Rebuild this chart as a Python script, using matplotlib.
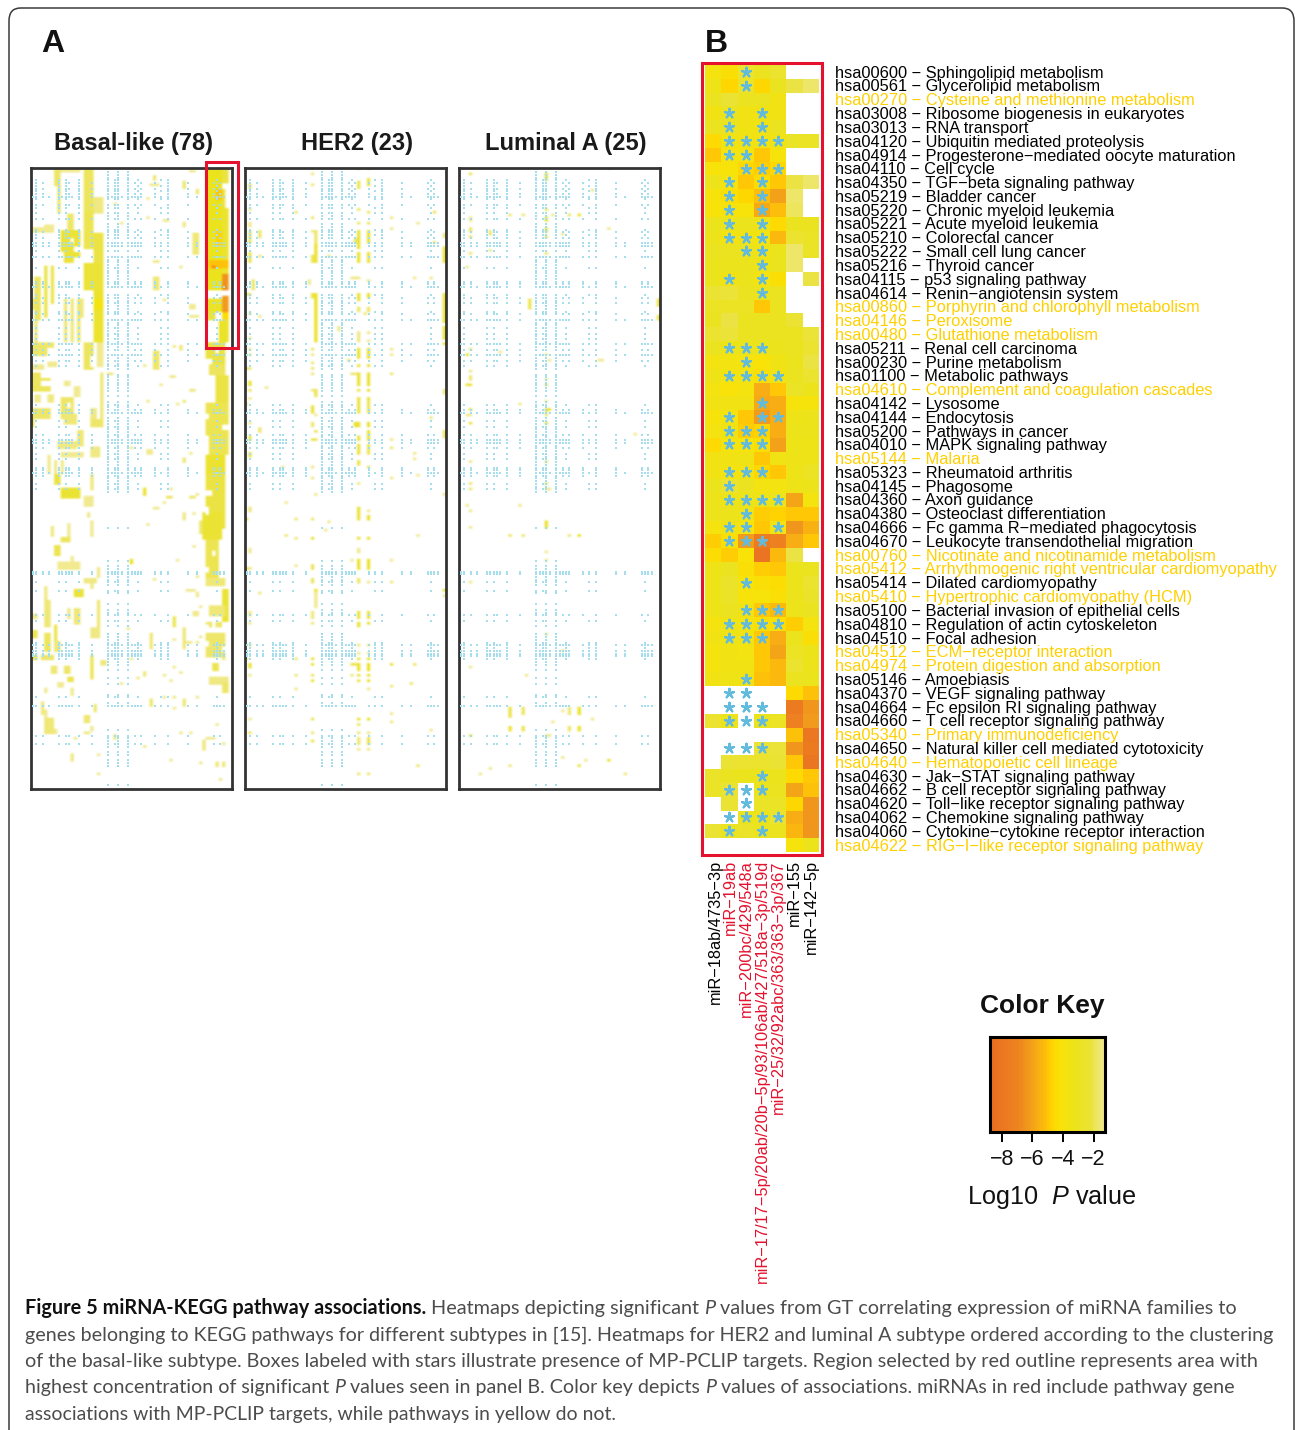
import numpy as np
import matplotlib
import matplotlib.pyplot as plt
from matplotlib.colors import LinearSegmentedColormap, Normalize
from matplotlib.patches import Rectangle, FancyBboxPatch

matplotlib.use("Agg")

W, H = 1295, 1430
N = np.nan
plt.rcParams['font.family'] = ['Liberation Sans', 'DejaVu Sans']
plt.rcParams['mathtext.fontset'] = 'custom'
plt.rcParams['mathtext.rm'] = 'Liberation Sans'
plt.rcParams['mathtext.it'] = 'Liberation Sans:italic'

# ---- panel B ----
pathways = [
    "hsa00600 − Sphingolipid metabolism", "hsa00561 − Glycerolipid metabolism",
    "hsa00270 − Cysteine and methionine metabolism", "hsa03008 − Ribosome biogenesis in eukaryotes",
    "hsa03013 − RNA transport", "hsa04120 − Ubiquitin mediated proteolysis",
    "hsa04914 − Progesterone−mediated oocyte maturation", "hsa04110 − Cell cycle",
    "hsa04350 − TGF−beta signaling pathway", "hsa05219 − Bladder cancer",
    "hsa05220 − Chronic myeloid leukemia", "hsa05221 − Acute myeloid leukemia",
    "hsa05210 − Colorectal cancer", "hsa05222 − Small cell lung cancer",
    "hsa05216 − Thyroid cancer", "hsa04115 − p53 signaling pathway",
    "hsa04614 − Renin−angiotensin system", "hsa00860 − Porphyrin and chlorophyll metabolism",
    "hsa04146 − Peroxisome", "hsa00480 − Glutathione metabolism",
    "hsa05211 − Renal cell carcinoma", "hsa00230 − Purine metabolism",
    "hsa01100 − Metabolic pathways", "hsa04610 − Complement and coagulation cascades",
    "hsa04142 − Lysosome", "hsa04144 − Endocytosis",
    "hsa05200 − Pathways in cancer", "hsa04010 − MAPK signaling pathway",
    "hsa05144 − Malaria", "hsa05323 − Rheumatoid arthritis",
    "hsa04145 − Phagosome", "hsa04360 − Axon guidance",
    "hsa04380 − Osteoclast differentiation", "hsa04666 − Fc gamma R−mediated phagocytosis",
    "hsa04670 − Leukocyte transendothelial migration", "hsa00760 − Nicotinate and nicotinamide metabolism",
    "hsa05412 − Arrhythmogenic right ventricular cardiomyopathy", "hsa05414 − Dilated cardiomyopathy",
    "hsa05410 − Hypertrophic cardiomyopathy (HCM)", "hsa05100 − Bacterial invasion of epithelial cells",
    "hsa04810 − Regulation of actin cytoskeleton", "hsa04510 − Focal adhesion",
    "hsa04512 − ECM−receptor interaction", "hsa04974 − Protein digestion and absorption",
    "hsa05146 − Amoebiasis", "hsa04370 − VEGF signaling pathway",
    "hsa04664 − Fc epsilon RI signaling pathway", "hsa04660 − T cell receptor signaling pathway",
    "hsa05340 − Primary immunodeficiency", "hsa04650 − Natural killer cell mediated cytotoxicity",
    "hsa04640 − Hematopoietic cell lineage", "hsa04630 − Jak−STAT signaling pathway",
    "hsa04662 − B cell receptor signaling pathway", "hsa04620 − Toll−like receptor signaling pathway",
    "hsa04062 − Chemokine signaling pathway", "hsa04060 − Cytokine−cytokine receptor interaction",
    "hsa04622 − RIG−I−like receptor signaling pathway",
]
yellow_rows = [2, 17, 18, 19, 23, 28, 35, 36, 38, 42, 43, 48, 50, 56]
mirnas = ["miR−18ab/4735−3p", "miR−19ab", "miR−200bc/429/548a",
          "miR−17/17−5p/20ab/20b−5p/93/106ab/427/518a−3p/519d",
          "miR−25/32/92abc/363/363−3p/367", "miR−155", "miR−142−5p"]
mirna_colors = ["black", "#e4122e", "#e4122e", "#e4122e", "#e4122e", "black", "black"]

log_p = [
    [-3.8, -4.3, -2.5, -3.0, -2.5, N, N],
    [-3.3, -4.6, -2.6, -4.6, -3.0, -2.0, -1.7],
    [-3.0, -2.2, -3.0, -3.0, -3.6, N, N],
    [-3.6, -3.0, -3.6, -3.6, -3.6, N, N],
    [-3.0, -3.0, -3.6, -3.5, -3.0, N, N],
    [-4.5, -3.5, -3.5, -3.5, -3.5, -2.7, -2.7],
    [-5.0, -3.8, -3.8, -4.9, -3.9, N, N],
    [-4.0, -4.0, -4.6, -4.8, -4.6, N, N],
    [-3.2, -3.8, -5.0, -4.4, -5.0, -2.0, -1.7],
    [-3.9, -4.2, -4.6, -5.2, -6.0, -1.7, N],
    [-4.0, -4.0, -4.0, -5.8, -5.2, -1.8, N],
    [-3.1, -3.1, -3.1, -3.3, -4.5, -3.0, -3.0],
    [-3.2, -3.8, -3.5, -3.7, -5.3, -2.4, -2.7],
    [-3.0, -3.0, -3.0, -3.5, -3.1, -1.7, -2.7],
    [-3.1, -3.1, -3.1, -3.3, -3.1, -1.7, N],
    [-3.1, -3.6, -3.1, -3.8, -4.2, N, -2.0],
    [-2.3, -2.1, -3.0, -3.1, -3.0, N, N],
    [-2.8, -2.9, -2.9, -5.0, -3.0, N, N],
    [-3.0, -2.0, -3.0, -3.0, -3.0, -2.2, N],
    [-2.4, -2.1, -3.0, -3.0, -3.0, -3.0, -2.1],
    [-3.0, -3.3, -3.1, -3.1, -3.1, -3.0, -2.4],
    [-3.7, -3.7, -3.8, -4.1, -3.4, -3.1, -2.0],
    [-3.3, -3.8, -3.7, -4.2, -3.7, -3.0, -2.5],
    [-3.7, -4.1, -3.8, -5.7, -4.9, -2.7, -3.2],
    [-3.5, -3.6, -3.6, -5.8, -5.7, -3.9, -3.9],
    [-3.9, -3.8, -4.9, -6.2, -5.6, -3.3, -3.2],
    [-3.7, -3.6, -4.8, -4.7, -5.7, -3.2, -3.2],
    [-4.5, -3.8, -3.9, -4.2, -6.0, -3.3, -3.3],
    [-3.6, -3.6, -3.4, -5.0, -3.5, -3.3, -3.3],
    [-3.5, -3.7, -3.7, -4.6, -5.0, -3.3, -2.9],
    [-3.1, -2.4, -3.0, -3.7, -3.7, -3.3, -3.2],
    [-3.2, -3.3, -3.2, -3.3, -3.2, -5.9, -3.8],
    [-3.2, -3.2, -3.3, -4.8, -4.7, -5.0, -5.0],
    [-3.8, -3.6, -3.9, -5.0, -3.8, -6.4, -5.5],
    [-4.8, -4.3, -6.2, -7.6, -7.2, -5.6, -5.0],
    [-4.4, -4.8, -4.1, -8.2, -5.3, -2.0, N],
    [-3.3, -3.0, -4.3, -4.8, -5.0, -3.1, -3.0],
    [-3.3, -2.6, -4.0, -4.2, -4.4, -3.2, -2.5],
    [-3.3, -2.7, -4.0, -4.0, -4.2, -3.2, -2.6],
    [-3.3, -3.0, -3.5, -5.0, -5.3, -3.2, -3.0],
    [-3.8, -3.4, -3.7, -4.3, -4.2, -4.8, -3.8],
    [-3.5, -3.4, -3.5, -4.9, -5.7, -3.1, -4.3],
    [-3.8, -3.5, -3.7, -5.0, -5.9, -2.8, -3.2],
    [-3.8, -3.5, -3.6, -5.0, -5.3, -2.5, -3.2],
    [-3.5, -3.4, -3.5, -5.1, -5.3, -3.0, -3.1],
    [N, N, N, N, N, -4.5, -5.1],
    [N, N, N, N, N, -7.8, -6.3],
    [-2.4, -3.2, N, -3.1, -2.8, -7.3, -6.2],
    [N, N, N, N, N, -5.1, -8.0],
    [N, N, N, -2.2, -2.1, -6.4, -7.6],
    [N, -2.2, -2.4, -2.5, -2.3, -4.9, -8.1],
    [-2.6, -3.0, -3.1, -3.1, -3.1, -4.5, -5.0],
    [-2.7, -2.2, N, -3.1, -3.0, -5.9, -5.1],
    [N, -2.2, N, -2.7, -2.7, -4.6, -6.4],
    [N, N, -3.2, -3.2, -2.4, -5.6, -6.4],
    [-2.2, -3.0, -2.6, -3.1, -3.0, -5.4, -6.3],
    [N, N, N, N, N, -3.9, -3.2],
]
# columns holding a star, per row of panel B
stars = {0: [2], 1: [2], 3: [1, 3], 4: [1, 3], 5: [1, 2, 3, 4], 6: [1, 2], 7: [2, 3, 4], 8: [1, 3], 9: [1, 3],
         10: [1, 3], 11: [1, 3], 12: [1, 2, 3], 13: [2, 3], 14: [3], 15: [1, 3], 16: [3], 20: [1, 2, 3], 21: [2],
         22: [1, 2, 3, 4], 24: [3], 25: [1, 3, 4], 26: [1, 2, 3], 27: [1, 2, 3], 29: [1, 2, 3], 30: [1],
         31: [1, 2, 3, 4], 32: [2], 33: [1, 2, 4], 34: [1, 2, 3], 37: [2], 39: [2, 3, 4], 40: [1, 2, 3, 4],
         41: [1, 2, 3], 44: [2], 45: [1, 2], 46: [1, 2, 3], 47: [1, 2, 3], 49: [1, 2, 3], 51: [3], 52: [1, 2, 3],
         53: [2], 54: [1, 2, 3, 4], 55: [1, 3]}

# ---- panel A: estimated cells, (first row, end row, first col, end col, log10 P) ----
basal_blocks = [
    (0, 16, 16, 19, -2.8), (0, 2, 9, 15, -2.4), (0, 7, 7, 9, -2.7), (7, 17, 8, 9, -2.7), (11, 17, 19, 22, -2.5),
    (16, 30, 16, 19, -2.9), (17, 25, 11, 13, -2.7), (21, 23, 4, 7, -2.3), (22, 24, 0, 7, -2.4), (23, 35, 9, 15, -3.1),
    (24, 36, 19, 22, -3.0), (35, 45, 16, 22, -3.1), (45, 64, 19, 22, -3.4), (48, 52, 19, 22, -4.4), (64, 73, 20, 22, -2.4),
    (64, 74, 16, 19, -2.8), (36, 55, 4, 5, -3.0), (36, 50, 6, 7, -2.9), (40, 56, 1, 3, -2.8), (48, 52, 0, 1, -2.6),
    (48, 64, 10, 11, -2.6), (48, 64, 12, 13, -2.6), (48, 64, 14, 15, -2.7), (48, 55, 15, 16, -2.5), (56, 66, 1, 2, -2.6),
    (64, 69, 0, 7, -2.7), (72, 74, 0, 4, -2.3), (71, 73, 5, 8, -2.3), (75, 82, 0, 6, -2.8), (83, 86, 1, 3, -2.4),
    (83, 86, 5, 7, -2.5), (78, 80, 10, 12, -2.3), (80, 84, 13, 15, -2.3), (84, 92, 9, 13, -2.7), (88, 92, 0, 6, -2.7),
    (90, 94, 10, 14, -2.6), (92, 95, 0, 1, -2.9), (75, 92, 21, 22, -2.6), (92, 95, 18, 22, -2.7), (88, 92, 18, 20, -2.5),
    (100, 103, 8, 14, -2.5), (104, 106, 9, 16, -2.4), (96, 102, 14, 16, -2.6), (102, 106, 18, 21, -2.5), (105, 112, 5, 6, -2.4),
    (107, 112, 9, 10, -2.3), (107, 112, 7, 8, -2.4), (40, 45, 37, 39, -2.6), (67, 74, 37, 39, -2.7), (50, 52, 48, 50, -2.4),
    (54, 55, 48, 51, -2.3), (24, 32, 49, 51, -2.6), (5, 8, 46, 47, -2.7), (3, 5, 37, 38, -2.6), (6, 7, 36, 39, -2.4),
    (8, 10, 50, 51, -2.6), (1, 2, 48, 50, -2.3), (34, 35, 37, 39, -2.3), (65, 66, 43, 44, -2.5), (65, 67, 45, 46, -2.6),
    (72, 73, 34, 35, -2.4), (79, 80, 39, 40, -2.3), (76, 77, 42, 44, -2.4), (81, 82, 48, 50, -2.5), (85, 86, 46, 47, -2.7),
    (86, 87, 44, 45, -2.3), (85, 86, 35, 36, -2.4), (19, 20, 40, 42, -2.3), (20, 22, 46, 47, -2.5), (18, 19, 35, 36, -2.3),
    (11, 12, 35, 36, -2.3), (20, 21, 27, 28, -2.4), (13, 14, 25, 26, -2.4), (0, 1, 31, 32, -2.3), (75, 76, 23, 25, -2.5),
    (103, 105, 35, 37, -2.4), (102, 103, 30, 31, -2.3), (106, 108, 46, 47, -2.6), (104, 105, 48, 49, -2.4), (48, 49, 40, 41, -2.3),
    (36, 37, 45, 46, -2.4),
    # right hand column of the basal-like map
    (0, 45, 53, 58, -3.9), (0, 6, 58, 60, -3.0), (8, 15, 58, 59, -3.0), (15, 40, 58, 60, -3.4), (8, 12, 56, 58, -5.5),
    (23, 29, 56, 58, -5.3), (34, 37, 54, 60, -5.6), (36, 37, 55, 56, -7.4), (39, 45, 58, 60, -6.8), (48, 53, 53, 58, -3.5),
    (47, 53, 58, 60, -6.6), (53, 56, 53, 56, -3.0), (56, 64, 57, 60, -3.5), (53, 56, 58, 60, -5.0), (64, 72, 53, 59, -3.0),
    (72, 76, 54, 59, -2.8), (76, 86, 56, 60, -3.0), (86, 98, 53, 60, -2.9), (98, 105, 54, 60, -2.9), (105, 112, 53, 59, -3.3),
    (112, 132, 53, 59, -3.0), (126, 136, 52, 58, -3.2), (136, 150, 53, 57, -2.9), (150, 153, 53, 59, -2.6), (154, 166, 58, 60, -3.2),
    (160, 164, 54, 59, -2.6), (166, 167, 53, 54, -2.6), (166, 167, 56, 57, -2.6), (170, 179, 53, 59, -2.7), (179, 180, 58, 59, -2.6),
    (181, 184, 55, 57, -2.9), (186, 189, 54, 60, -2.5), (188, 192, 58, 60, -2.7),
    # lower half
    (112, 116, 7, 9, -3.0), (117, 121, 9, 15, -3.2), (112, 118, 18, 19, -2.6), (120, 124, 16, 19, -2.3), (126, 128, 17, 18, -2.4),
    (131, 135, 6, 7, -2.5), (130, 135, 11, 12, -2.4), (129, 135, 18, 19, -2.4), (135, 137, 9, 12, -2.8), (138, 142, 7, 9, -2.9),
    (142, 145, 12, 13, -2.3), (144, 147, 8, 15, -2.2), (146, 150, 20, 21, -2.3), (150, 152, 16, 20, -2.5), (152, 154, 18, 19, -2.5),
    (153, 158, 4, 5, -2.5), (154, 157, 13, 16, -3.1), (158, 168, 4, 6, -2.6), (158, 168, 20, 21, -2.6), (161, 167, 13, 15, -2.6),
    (161, 165, 11, 12, -2.5), (163, 165, 0, 2, -2.4), (167, 175, 7, 8, -2.9), (169, 172, 0, 2, -2.9), (168, 172, 18, 21, -2.5),
    (170, 177, 4, 6, -2.8), (173, 177, 7, 9, -2.6), (178, 180, 0, 2, -2.9), (178, 180, 3, 7, -2.7), (178, 187, 18, 19, -2.9),
    (180, 182, 21, 23, -2.6), (182, 185, 6, 8, -2.6), (182, 185, 10, 12, -2.7), (186, 188, 11, 13, -2.9), (188, 190, 8, 10, -2.4),
    (190, 192, 4, 5, -2.4), (190, 193, 12, 13, -2.4), (195, 200, 3, 4, -2.5), (198, 201, 4, 5, -2.3), (201, 207, 4, 7, -2.6),
    (205, 207, 7, 8, -2.4), (196, 199, 19, 20, -2.6), (200, 203, 16, 18, -2.6), (206, 207, 16, 18, -2.5), (204, 206, 18, 19, -2.4),
    (208, 209, 13, 14, -2.3), (117, 120, 34, 35, -3.2), (117, 118, 42, 43, -2.3), (120, 121, 41, 43, -2.8), (122, 123, 40, 41, -2.4),
    (124, 125, 37, 39, -2.4), (120, 121, 48, 50, -2.7), (119, 120, 50, 51, -2.4), (126, 129, 46, 47, -2.5), (130, 131, 35, 36, -2.3),
    (138, 139, 49, 50, -2.4), (126, 127, 49, 50, -2.3), (129, 134, 51, 52, -2.6), (143, 145, 30, 31, -3.5), (143, 144, 44, 45, -2.4),
    (150, 151, 37, 38, -2.4), (149, 150, 50, 51, -2.3), (154, 155, 47, 50, -2.4), (155, 157, 50, 51, -2.4), (160, 161, 51, 52, -2.3),
    (162, 164, 49, 51, -2.4), (164, 168, 43, 44, -2.9), (168, 176, 46, 47, -2.6), (170, 176, 36, 37, -2.6), (172, 173, 43, 44, -2.4),
    (173, 174, 47, 49, -2.4), (173, 174, 50, 51, -2.4), (171, 172, 51, 52, -2.4), (166, 168, 54, 55, -2.7), (166, 168, 56, 58, -2.7),
    (168, 169, 29, 30, -2.3), (179, 180, 30, 31, -2.4), (181, 182, 21, 23, -2.5), (182, 183, 43, 44, -2.3), (184, 185, 45, 46, -2.3),
    (185, 186, 40, 41, -2.4), (184, 186, 34, 35, -2.5), (186, 187, 32, 33, -2.5), (187, 188, 42, 43, -2.3), (188, 189, 27, 28, -2.4),
    (193, 194, 40, 41, -2.4), (193, 194, 43, 44, -2.5), (193, 194, 50, 51, -2.4), (194, 197, 36, 37, -2.7), (194, 197, 46, 47, -2.6),
    (197, 198, 43, 44, -2.3), (203, 204, 56, 57, -2.3), (206, 207, 45, 46, -2.3), (206, 207, 48, 49, -2.3), (207, 209, 25, 26, -2.5),
    (211, 212, 34, 35, -2.4), (209, 213, 52, 53, -2.6), (208, 209, 53, 56, -2.4), (210, 211, 58, 59, -2.5), (216, 217, 42, 43, -2.4),
    (217, 218, 51, 52, -2.4), (217, 219, 56, 57, -2.6), (217, 219, 58, 59, -2.6), (214, 215, 20, 21, -2.3), (214, 217, 12, 13, -2.5),
    (221, 222, 20, 21, -2.3), (223, 224, 57, 58, -2.3),
    # white gaps inside the filled patches
    (26, 28, 12, 13, N), (29, 31, 13, 15, N), (31, 35, 9, 10, N), (33, 35, 13, 15, N), (66, 69, 5, 7, N), (78, 80, 3, 6, N),
    (75, 77, 3, 6, N), (86, 88, 11, 12, N), (69, 73, 18, 19, N), (66, 68, 56, 57, N), (70, 72, 53, 55, N), (90, 92, 53, 54, N),
    (94, 96, 58, 60, N), (118, 120, 53, 55, N), (124, 127, 53, 54, N), (140, 142, 55, 56, N), (146, 148, 53, 54, N),
    (173, 175, 53, 54, N), (175, 177, 58, 59, N),
]
her2_blocks = [
    (6, 8, 1, 2, -2.6), (15, 16, 1, 2, -2.3), (20, 22, 1, 2, -2.4), (23, 28, 1, 2, -2.7), (31, 35, 1, 2, -2.9), (41, 45, 2, 3, -2.7),
    (46, 47, 0, 2, -2.7), (53, 54, 1, 2, -2.5), (62, 63, 1, 2, -2.2), (66, 67, 1, 2, -2.4), (68, 69, 1, 2, -2.3), (73, 74, 0, 2, -2.6),
    (78, 80, 1, 2, -3.3), (81, 82, 1, 2, -2.8), (84, 85, 1, 2, -2.2), (86, 87, 0, 1, -2.4), (93, 94, 1, 2, -2.4), (98, 100, 1, 2, -2.9),
    (104, 106, 1, 2, -3.0), (23, 26, 4, 5, -2.7), (32, 33, 4, 5, -2.5), (54, 55, 4, 5, -2.4), (80, 81, 6, 7, -2.4), (95, 97, 4, 5, -2.7),
    (0, 1, 20, 21, -2.4), (2, 3, 20, 21, -2.1), (6, 7, 20, 21, -2.5), (18, 19, 20, 21, -2.6), (23, 24, 20, 21, -2.3), (23, 28, 21, 22, -2.7),
    (28, 35, 21, 22, -3.3), (32, 35, 20, 21, -2.8), (41, 43, 19, 20, -2.4), (46, 64, 21, 22, -3.6), (46, 48, 20, 21, -2.9), (66, 67, 20, 21, -2.6),
    (68, 69, 20, 21, -2.4), (71, 72, 20, 21, -2.5), (73, 74, 20, 21, -2.6), (75, 76, 20, 21, -2.5), (81, 82, 20, 21, -2.5), (81, 84, 21, 22, -2.9),
    (87, 90, 20, 21, -3.0), (90, 91, 21, 22, -2.4), (93, 95, 20, 21, -2.6), (96, 97, 21, 22, -2.9), (99, 100, 20, 22, -2.8), (109, 110, 20, 21, -2.3),
    (0, 1, 34, 35, -2.6), (5, 8, 34, 35, -2.9), (15, 16, 34, 35, -2.7), (20, 21, 34, 35, -2.7), (23, 30, 34, 35, -3.1), (26, 28, 33, 34, -2.7),
    (31, 35, 34, 35, -3.1), (40, 41, 33, 35, -2.5), (46, 49, 34, 35, -3.3), (51, 53, 34, 35, -2.7), (60, 64, 34, 35, -2.5), (66, 70, 34, 35, -3.1),
    (72, 73, 34, 35, -3.1), (75, 76, 32, 35, -2.6), (75, 80, 34, 35, -3.2), (81, 82, 34, 35, -3.0), (84, 85, 34, 35, -3.0), (85, 90, 34, 35, -3.0),
    (93, 95, 33, 35, -3.2), (98, 100, 34, 35, -3.0), (101, 105, 34, 35, -3.0), (107, 109, 34, 35, -2.9),
    (0, 1, 37, 38, -2.6), (4, 7, 37, 38, -2.9), (16, 17, 37, 38, -2.7), (20, 21, 37, 38, -2.7), (23, 28, 37, 38, -3.2), (31, 35, 37, 38, -3.0),
    (41, 42, 37, 38, -2.5), (46, 48, 37, 38, -3.3), (51, 53, 37, 38, -2.7), (53, 54, 36, 37, -2.6), (60, 61, 37, 38, -2.5), (63, 64, 37, 38, -2.4),
    (66, 70, 37, 38, -3.1), (72, 73, 37, 38, -3.2), (75, 80, 37, 38, -3.1), (81, 82, 37, 38, -3.1), (84, 85, 37, 38, -3.0), (85, 90, 37, 38, -2.8),
    (93, 95, 37, 38, -3.1), (96, 100, 37, 38, -3.0), (101, 105, 37, 38, -2.8), (109, 110, 37, 38, -2.7),
    (18, 19, 44, 45, -2.4), (22, 23, 44, 45, -2.2), (66, 67, 44, 45, -2.4), (68, 69, 44, 45, -2.2), (75, 76, 44, 45, -2.6), (99, 100, 44, 45, -2.2),
    (102, 103, 44, 45, -2.6), (24, 26, 60, 61, -2.5), (29, 35, 60, 61, -3.3), (46, 57, 60, 61, -3.3), (58, 63, 60, 61, -3.3), (64, 65, 60, 61, -3.3),
    (81, 83, 60, 61, -2.5), (96, 99, 60, 61, -2.7), (16, 17, 15, 16, -2.6), (32, 33, 25, 26, -2.5), (58, 60, 28, 29, -2.4), (40, 41, 32, 33, -2.4),
    (20, 21, 52, 53, -2.4), (40, 41, 51, 52, -2.4), (40, 41, 56, 57, -2.4), (16, 17, 57, 58, -2.8), (27, 28, 57, 58, -2.6), (91, 92, 56, 57, -2.5),
    (70, 71, 31, 32, -2.6), (104, 105, 51, 52, -2.4), (106, 107, 51, 52, -2.2), (109, 110, 11, 12, -2.3),
    (113, 114, 20, 21, -2.4), (115, 116, 34, 35, -2.4), (113, 114, 44, 45, -2.4), (112, 113, 52, 53, -2.4), (119, 120, 21, 22, -2.4), (119, 120, 60, 61, -2.4),
    (122, 123, 12, 13, -2.4), (124, 126, 1, 2, -2.6), (124, 127, 34, 35, -3.1), (125, 126, 37, 38, -2.3), (128, 129, 0, 1, -3.0), (128, 129, 15, 16, -2.6),
    (128, 129, 20, 21, -2.6), (127, 129, 34, 35, -3.0), (127, 129, 37, 38, -3.2), (129, 130, 25, 26, -2.4), (132, 133, 24, 25, -2.2), (134, 135, 12, 13, -2.6),
    (134, 135, 52, 53, -2.4), (135, 136, 15, 16, -2.5), (135, 136, 20, 21, -3.0), (135, 136, 34, 35, -3.2), (135, 136, 37, 38, -3.5), (139, 141, 1, 2, -2.4),
    (139, 141, 34, 35, -2.3), (143, 144, 44, 45, -2.3), (143, 147, 34, 35, -3.3), (143, 147, 37, 38, -3.3), (143, 144, 32, 33, -2.4), (145, 146, 15, 16, -2.3),
    (145, 147, 20, 21, -2.8), (146, 147, 0, 2, -2.6), (150, 152, 20, 21, -2.7), (150, 152, 34, 35, -2.7), (151, 152, 37, 38, -2.4), (151, 152, 44, 45, -2.5),
    (154, 155, 21, 22, -4.0), (154, 155, 60, 61, -3.5), (155, 156, 4, 5, -2.5), (155, 161, 21, 22, -2.2), (156, 157, 60, 61, -2.4), (162, 164, 1, 2, -2.5),
    (162, 165, 20, 21, -2.5), (162, 165, 34, 35, -3.0), (162, 165, 37, 38, -3.0), (166, 167, 1, 2, -2.4), (166, 167, 20, 21, -2.5), (166, 168, 34, 35, -3.1),
    (166, 167, 37, 38, -3.2), (174, 175, 1, 2, -2.6), (174, 175, 34, 35, -2.5), (174, 175, 37, 38, -2.4), (177, 178, 34, 35, -2.2), (177, 178, 37, 38, -2.4),
    (179, 180, 0, 1, -2.7), (179, 180, 15, 16, -2.6), (179, 180, 20, 21, -3.0), (179, 180, 34, 35, -3.0), (179, 180, 37, 38, -3.4), (181, 183, 1, 2, -3.3),
    (181, 182, 20, 21, -3.0), (181, 182, 32, 34, -2.9), (181, 184, 34, 35, -3.3), (181, 184, 37, 38, -3.5), (181, 182, 44, 45, -3.0), (181, 182, 51, 52, -2.7),
    (185, 186, 1, 2, -2.3), (185, 186, 15, 16, -2.5), (185, 186, 20, 21, -2.7), (185, 186, 32, 33, -2.5), (185, 186, 34, 35, -3.0), (185, 186, 37, 38, -3.3),
    (187, 188, 20, 21, -3.0), (187, 188, 34, 35, -3.0), (187, 188, 37, 38, -3.2), (188, 189, 50, 51, -2.6), (189, 190, 44, 45, -2.5), (190, 191, 15, 16, -2.2),
    (190, 191, 37, 38, -2.4), (199, 200, 44, 45, -2.2), (201, 202, 1, 2, -2.4), (201, 202, 20, 21, -2.8), (201, 202, 34, 35, -3.3), (201, 202, 37, 38, -3.6),
    (202, 203, 44, 45, -2.5), (203, 204, 34, 35, -2.7), (205, 206, 56, 57, -2.3), (206, 207, 1, 2, -2.8), (206, 207, 20, 21, -2.5), (206, 207, 34, 35, -2.6),
    (206, 207, 37, 38, -2.5), (209, 210, 20, 21, -2.9), (208, 211, 34, 35, -2.6), (208, 211, 37, 38, -2.9), (212, 213, 34, 35, -2.3), (212, 213, 37, 38, -2.4),
    (218, 219, 52, 53, -2.7), (221, 222, 34, 35, -2.6), (221, 222, 37, 38, -2.6),
]
luma_blocks = [
    (2, 3, 3, 4, -2.8), (18, 20, 3, 4, -2.4), (22, 24, 3, 4, -2.7), (25, 26, 3, 4, -2.8), (31, 32, 3, 4, -2.6), (36, 37, 2, 3, -2.3),
    (66, 67, 3, 4, -2.6), (68, 69, 2, 3, -3.4), (74, 75, 3, 4, -2.2), (76, 78, 3, 4, -2.6), (79, 80, 2, 4, -3.0), (88, 89, 3, 4, -3.3),
    (90, 91, 2, 4, -2.3), (93, 94, 3, 4, -3.0), (107, 108, 3, 4, -2.3),
    (2, 5, 26, 27, -3.3), (15, 16, 26, 27, -2.7), (18, 20, 26, 27, -3.0), (22, 24, 26, 27, -3.0), (25, 26, 26, 27, -2.9), (31, 32, 26, 27, -2.7),
    (68, 69, 26, 27, -2.4), (77, 78, 26, 27, -2.4), (79, 80, 26, 27, -2.8), (85, 86, 26, 27, -2.4), (88, 89, 26, 28, -3.1), (89, 91, 26, 27, -2.5),
    (93, 94, 26, 27, -3.2), (107, 108, 26, 27, -2.6), (23, 25, 9, 10, -2.6), (30, 31, 9, 10, -2.4), (17, 18, 15, 16, -2.6), (17, 18, 19, 20, -2.6),
    (17, 18, 28, 29, -2.3), (17, 18, 33, 34, -2.7), (17, 18, 36, 37, -3.4), (48, 52, 21, 22, -2.9), (8, 9, 40, 41, -2.2), (0, 1, 45, 46, -2.2),
    (22, 23, 45, 46, -2.3), (24, 25, 31, 32, -2.3), (67, 68, 12, 13, -2.3), (70, 71, 27, 28, -2.3), (70, 71, 42, 44, -2.2), (86, 87, 18, 19, -2.3),
    (97, 98, 53, 54, -2.4), (48, 51, 60, 61, -2.9), (54, 56, 60, 61, -2.9),
    (115, 116, 3, 4, -2.6), (117, 118, 3, 4, -2.6), (125, 126, 3, 4, -2.3), (131, 132, 3, 4, -2.3), (151, 152, 3, 4, -2.4), (182, 183, 3, 4, -2.4),
    (207, 208, 3, 4, -3.0), (123, 124, 2, 3, -2.3), (115, 116, 26, 27, -2.7), (117, 118, 26, 28, -2.3), (129, 132, 26, 27, -3.4), (140, 141, 26, 27, -2.3),
    (143, 144, 26, 27, -2.3), (170, 171, 26, 27, -2.4), (207, 208, 26, 28, -2.3), (123, 124, 18, 19, -2.3), (134, 135, 15, 16, -2.7), (134, 135, 19, 20, -2.6),
    (134, 135, 33, 34, -2.5), (134, 135, 36, 37, -3.4), (176, 177, 31, 32, -2.4), (185, 186, 20, 21, -2.2), (197, 201, 15, 16, -3.0), (197, 200, 19, 20, -2.8),
    (198, 199, 31, 32, -2.3), (197, 200, 33, 34, -2.6), (197, 200, 36, 37, -3.6), (201, 202, 40, 41, -2.4), (202, 203, 28, 29, -2.4), (204, 206, 15, 16, -3.2),
    (204, 206, 19, 20, -2.9), (204, 206, 33, 34, -2.7), (204, 206, 36, 37, -3.6), (215, 216, 31, 32, -2.4), (216, 217, 38, 39, -2.3), (216, 217, 45, 46, -3.4),
    (218, 219, 15, 16, -2.5), (218, 219, 36, 37, -2.9), (219, 220, 9, 10, -2.3), (221, 222, 6, 7, -2.3), (221, 222, 50, 51, -2.5),
]

# MP-PCLIP target cells of panel A, the same in all three maps
target_cols_dense = [0, 1, 3, 5, 8, 9, 10, 11, 12, 14, 18, 23, 24, 25, 26, 27, 29, 30, 31, 32, 33, 37, 39, 41, 47, 50, 55, 56, 57, 58]
target_cols_mid = [1, 3, 8, 10, 11, 14, 18, 23, 25, 26, 29, 31, 33, 37, 41, 47, 55, 57]
target_cols_light = [1, 8, 10, 14, 23, 25, 26, 29, 32, 39, 41, 56]
target_cols_thin = [23, 26, 29]
target_rows_dense = [10, 27, 28, 32, 43, 55, 64, 68, 89, 99, 100, 111, 147, 148, 174, 176, 177, 178, 196]
target_rows_mid = [5, 7, 9, 13, 18, 23, 25, 41, 42, 47, 49, 53, 66, 70, 88, 97, 102, 109, 110, 112, 163, 207, 210]
target_rows_light = [4, 6, 8, 11, 14, 16, 22, 24, 30, 36, 46, 52, 58, 60, 62, 72, 86, 92, 94, 104, 106, 115, 117,
                     151, 154, 165, 173, 175, 179, 193]
target_rows_thin = [1, 2, 3, 17, 20, 21, 33, 34, 35, 37, 38, 39, 40, 48, 50, 51, 56, 57, 59, 61, 63, 65, 69, 71, 73, 75, 76,
                    77, 78, 79, 80, 81, 83, 85, 87, 91, 93, 95, 96, 98, 101, 103, 105, 107, 108, 113, 114, 116, 118, 131, 143,
                    145, 146, 149, 150, 152, 155, 159, 161, 162, 167, 170, 171, 172, 180, 181, 183, 186, 188, 192, 195, 205,
                    208, 209, 211, 213, 214, 216, 217, 218, 225]

panel_titles = ["Basal-like (78)", "HER2 (23)", "Luminal A (25)"]

key_ticks = [-8, -6, -4, -2]
key_steps = [-8.6, -8.2, -7.8, -7.4, -7.0, -6.6, -6.2, -5.8, -5.4, -5.0, -4.6, -4.2, -3.8, -3.4, -3.0, -2.6, -2.2, -1.8, -1.4]

caption = [
    [("Figure 5 miRNA-KEGG pathway associations.", "b"), ("Heatmaps depicting significant", "r"), ("P", "i"),
     ("values from GT correlating expression of miRNA families to", "r")],
    [("genes belonging to KEGG pathways for different subtypes in [15]. Heatmaps for HER2 and luminal A subtype ordered according to the clustering", "r")],
    [("of the basal-like subtype. Boxes labeled with stars illustrate presence of MP-PCLIP targets. Region selected by red outline represents area with", "r")],
    [("highest concentration of significant", "r"), ("P", "i"), ("values seen in panel B. Color key depicts", "r"), ("P", "i"),
     ("values of associations. miRNAs in red include pathway gene", "r")],
    [("associations with MP-PCLIP targets, while pathways in yellow do not.", "r")],
]
caption_ends = [1237, 1271, 1262, 1236, 616]
caption_base = [1314, 1341, 1367, 1393, 1420]

cmap = LinearSegmentedColormap.from_list("key", [
    (0.0, "#e96f22"), (0.235, "#ee8420"), (0.36, "#f3a01a"), (0.5, "#ffc408"), (0.55, "#ffd700"), (0.63, "#f8e40a"),
    (0.76, "#ece31c"), (0.89, "#ebe338"), (1.0, "#f1ea90")], N=64)
cmap.set_bad("white")
norm = Normalize(-8.76, -1.26)
# the small maps of panel A print paler than the key
norm_a = Normalize(-8.76, -2.4, clip=True)

fig = plt.figure(figsize=(W / 100, H / 100), dpi=100)


def px_axes(x0, y0, x1, y1):
    return fig.add_axes([x0 / W, 1 - y1 / H, (x1 - x0) / W, (y1 - y0) / H])


def fx(x):
    return x / W


def fy(y):
    return 1 - y / H


# outer rounded frame, open at the bottom of the page
fig.add_artist(FancyBboxPatch((fx(9), fy(1470)), (1294 - 9) / W, (1470 - 8) / H, transform=fig.transFigure,
                              boxstyle="round,pad=0,rounding_size=0.009", fc="none", ec="#3a3a3a", lw=1.1))

fig.text(fx(41), fy(52), "A", fontsize=23, fontweight="bold", color="#111111")
fig.text(fx(705), fy(52), "B", fontsize=23, fontweight="bold", color="#111111")

# panel A maps
n_rows, n_cols = 227, 61
target_x = []
target_y = []
for rows, cols in [(target_rows_dense, target_cols_dense), (target_rows_mid, target_cols_mid),
                   (target_rows_light, target_cols_light), (target_rows_thin, target_cols_thin)]:
    for r in rows:
        for c in cols:
            target_x.append(c + 0.5)
            target_y.append(r + 0.5)

for blocks, title, x0, cx in zip([basal_blocks, her2_blocks, luma_blocks], panel_titles, [31, 245, 459], [134, 357, 566]):
    ax = px_axes(x0, 168, x0 + 201, 789)
    grid = np.full((n_rows, n_cols), np.nan)
    for r0, r1, c0, c1, v in blocks:
        grid[r0:r1, c0:c1] = v
    # RGB so that the soft print edges blend into white
    rgb = cmap(norm_a(np.ma.masked_invalid(grid)))[:, :, :3]
    ax.imshow(rgb, aspect="auto", interpolation="bilinear", extent=(0, n_cols, n_rows, 0))
    ax.scatter(target_x, target_y, s=0.7, marker="s", color="#a6deee", linewidths=0, zorder=3)
    ax.set_xlim(0, n_cols)
    ax.set_ylim(n_rows, 0)
    ax.set_xticks([])
    ax.set_yticks([])
    for s in ax.spines.values():
        s.set_linewidth(2.0)
        s.set_color("#333333")
    fig.text(fx(cx), fy(150), title, fontsize=17, fontweight="bold", ha="center", color="#1a1a1a")

# red selection on the basal-like map
fig.add_artist(Rectangle((fx(205.5), fy(348)), 32 / W, 186 / H, transform=fig.transFigure, fc="none", ec="#e4122e", lw=2.2))

# panel B heatmap
axb = px_axes(705, 65, 819, 851.6)
axb.imshow(np.array(log_p), cmap=cmap, norm=norm, aspect="auto", interpolation="nearest", extent=(0, 7, 57, 0))
star_x = []
star_y = []
for r, cols in stars.items():
    for c in cols:
        star_x.append(c + 0.5)
        star_y.append(r + 0.5)
axb.scatter(star_x, star_y, s=46, marker=(5, 2, 0), color="#62bbdc", linewidths=1.6, zorder=3)
axb.set_xlim(0, 7)
axb.set_ylim(57, 0)
axb.axis("off")
fig.add_artist(Rectangle((fx(701.5), fy(854.5)), 120.5 / W, 792 / H, transform=fig.transFigure, fc="none", ec="#e4122e", lw=2.2))

for i, name in enumerate(pathways):
    fig.text(fx(835), fy(73.2 + i * 13.8), name, fontsize=11.75, va="center", ha="left",
             color="#ffd000" if i in yellow_rows else "black")

for x, name, c in zip([715, 730.5, 746, 762, 778, 794.5, 811], mirnas, mirna_colors):
    fig.text(fx(x), fy(860), name, fontsize=11.75, rotation=90, ha="center", va="top", color=c)

# colour key
axk = px_axes(990, 1037, 1105, 1132)
axk.imshow(np.array([key_steps]), cmap=cmap, norm=norm, aspect="auto", interpolation="bilinear",
           extent=(-8.76, -1.26, 0, 1))
axk.set_yticks([])
axk.set_xticks(key_ticks)
axk.set_xticklabels(["−8", "−6", "−4", "−2"], fontsize=15.5, color="#111111")
axk.tick_params(axis="x", length=7.5, width=1.4, pad=5)
for s in axk.spines.values():
    s.set_linewidth(2.2)
fig.text(fx(1042), fy(1013), "Color Key", fontsize=19, fontweight="bold", ha="center", color="#111111")
fig.text(fx(1052), fy(1204), r"Log10  $\mathit{P}$ value", fontsize=18.2, ha="center", color="#111111")

# caption, fitted to the measured width of every line
renderer = fig.canvas.get_renderer()
styles = {"b": dict(fontweight="bold", color="#111111"), "r": dict(color="#4c4c4c"), "i": dict(style="italic", color="#4c4c4c")}
for runs, end, base in zip(caption, caption_ends, caption_base):
    fs = 14.3
    parts = []
    for txt, kind in runs:
        parts.append(fig.text(0, 0, txt, fontsize=fs, family="Lato", **styles[kind]))
    gap = 5.0
    total = sum(p.get_window_extent(renderer).width for p in parts)
    scale = (end - 25 - gap * (len(parts) - 1)) / total
    x = 25.0
    for p in parts:
        p.set_fontsize(fs * scale)
        p.set_position((fx(x), fy(base)))
        x += p.get_window_extent(renderer).width + gap

fig.savefig("out.png", dpi=100)
